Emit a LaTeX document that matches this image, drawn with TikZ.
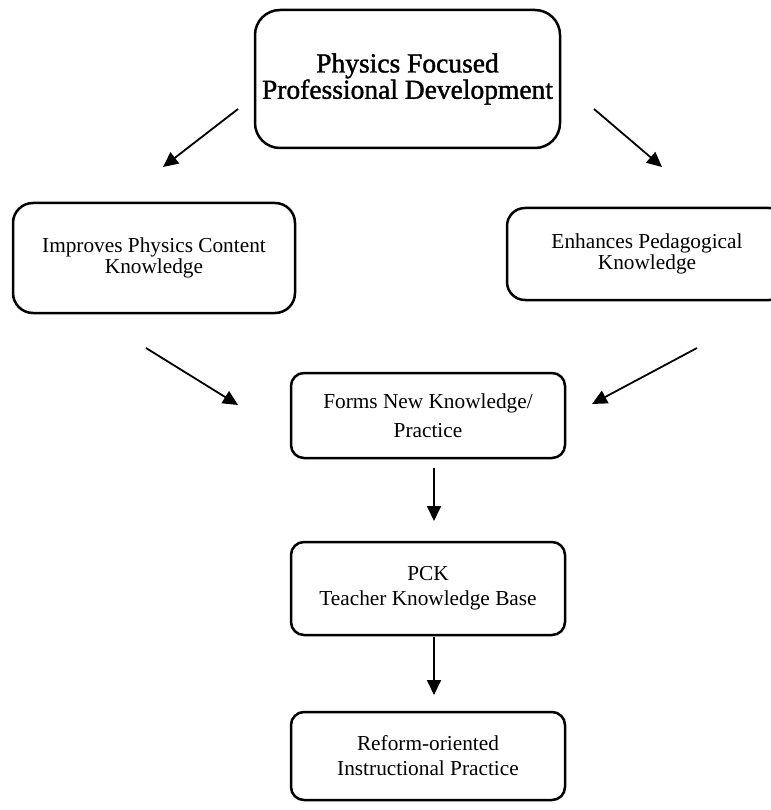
\documentclass[tikz,border=0pt]{standalone}
\usepackage{fontspec}
\setmainfont{Liberation Serif}
\newfontfamily\topfont{Liberation Serif}[FakeBold=1.4]
\usetikzlibrary{arrows.meta}
\begin{document}
\begin{tikzpicture}[x=1pt,y=-1pt,
  box/.style={draw, line width=2.5pt, rounded corners=#1, align=center, inner sep=0pt},
  box/.default=14pt,
  txt/.style={font=\fontsize{21.3}{#1}\selectfont},
  conn/.style={line width=1.8pt, -{Triangle[length=15pt,width=14pt]}}]
\useasboundingbox (0,0) rectangle (770,810);
\node[box=25pt, minimum width=305pt, minimum height=138pt,
      font={\topfont\fontsize{27.5}{22}\selectfont}] (top) at (407.5,79)
      {Physics Focused\\Professional Development};
\node[box=20pt, minimum width=282pt, minimum height=110pt, txt=21.5] (cont) at (154,258)
      {Improves Physics Content\\Knowledge};
\node[box=18pt, minimum width=280pt, minimum height=92pt, txt=21.5] (ped) at (647,254)
      {Enhances Pedagogical\\Knowledge};
\node[box=13pt, minimum width=274pt, minimum height=85pt, txt=29] (forms) at (428,415.5)
      {Forms New Knowledge/\\Practice};
\node[box=13pt, minimum width=274pt, minimum height=93pt, txt=25] (pck) at (428,588.5)
      {PCK\\Teacher Knowledge Base};
\node[box=13pt, minimum width=274pt, minimum height=88pt, txt=25] (ref) at (428,756)
      {Reform-oriented\\Instructional Practice};
\coordinate (a1s) at (238,109);
\coordinate (a1e) at (163,167);
\coordinate (a2s) at (594,109);
\coordinate (a2e) at (662,167);
\coordinate (a3s) at (146,348);
\coordinate (a3e) at (238,405);
\coordinate (a4s) at (697,348);
\coordinate (a4e) at (592,404);
\coordinate (a5s) at (434,468);
\coordinate (a5e) at (434,521);
\coordinate (a6s) at (434,637);
\coordinate (a6e) at (434,695);
\draw[conn] (a1s) -- (a1e);
\draw[conn] (a2s) -- (a2e);
\draw[conn] (a3s) -- (a3e);
\draw[conn] (a4s) -- (a4e);
\draw[conn] (a5s) -- (a5e);
\draw[conn] (a6s) -- (a6e);
\end{tikzpicture}
\end{document}
